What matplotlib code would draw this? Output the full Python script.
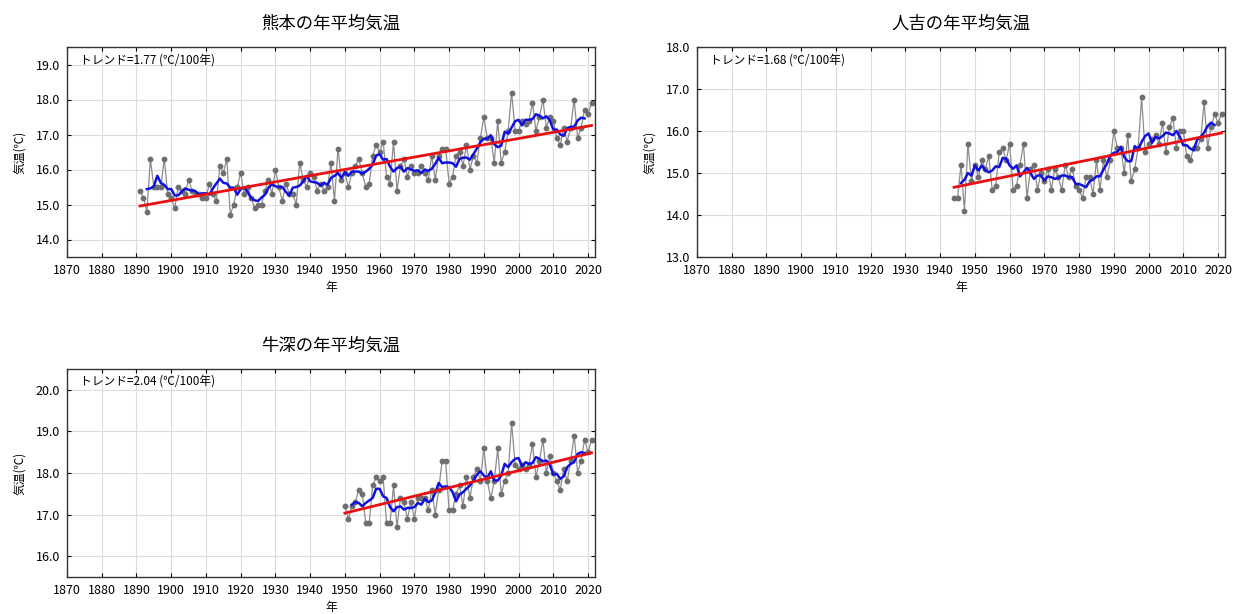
import matplotlib
matplotlib.use('Agg')
import matplotlib.pyplot as plt
import numpy as np

plt.rcParams['font.family'] = ['Noto Sans CJK JP', 'DejaVu Sans']

# 熊本 1891-2021
kumamoto_start = 1891
kumamoto = [
    15.4, 15.2, 14.8, 16.3, 15.5, 15.5, 15.5, 16.3, 15.3, 15.2,
    14.9, 15.5, 15.4, 15.3, 15.7, 15.4, 15.3, 15.3, 15.2, 15.2,
    15.6, 15.3, 15.1, 16.1, 15.9, 16.3, 14.7, 15.0, 15.5, 15.9,
    15.3, 15.5, 15.2, 14.9, 15.0, 15.0, 15.4, 15.7, 15.3, 16.0,
    15.5, 15.1, 15.6, 15.3, 15.3, 15.0, 16.2, 15.7, 15.5, 15.9,
    15.8, 15.4, 15.6, 15.4, 15.5, 16.2, 15.1, 16.6, 15.7, 15.9,
    15.5, 15.9, 16.1, 16.3, 15.9, 15.5, 15.6, 16.4, 16.7, 16.5,
    16.8, 15.8, 15.6, 16.8, 15.4, 16.1, 16.3, 15.8, 16.1, 15.9,
    15.9, 16.1, 15.9, 15.7, 16.4, 15.7, 16.4, 16.6, 16.6, 15.6,
    15.8, 16.4, 16.5, 16.1, 16.7, 16.0, 16.4, 16.2, 16.9, 17.5,
    16.9, 16.9, 16.2, 17.4, 16.2, 16.5, 17.1, 18.2, 17.1, 17.1,
    17.4, 17.3, 17.4, 17.9, 17.1, 17.5, 18.0, 17.2, 17.5, 17.4,
    16.9, 16.7, 17.2, 16.8, 17.2, 18.0, 16.9, 17.2, 17.7, 17.6,
    17.9,
]

# 人吉 1944-2021
hitoyoshi_start = 1944
hitoyoshi = [
    14.4, 14.4, 15.2, 14.1, 15.7, 14.8, 15.2, 14.9, 15.3, 15.1,
    15.4, 14.6, 14.7, 15.5, 15.6, 15.3, 15.7, 14.6, 14.7, 15.2,
    15.7, 14.4, 15.1, 15.2, 14.6, 15.0, 14.8, 15.1, 14.6, 15.1,
    14.9, 14.6, 15.2, 14.9, 15.1, 14.7, 14.6, 14.4, 14.9, 14.9,
    14.5, 15.3, 14.6, 15.3, 14.9, 15.3, 16.0, 15.6, 15.6, 15.0,
    15.9, 14.8, 15.1, 15.6, 16.8, 15.5, 15.7, 15.8, 15.9, 15.7,
    16.2, 15.5, 16.1, 16.3, 15.6, 16.0, 16.0, 15.4, 15.3, 15.6,
    15.6, 15.8, 16.7, 15.6, 16.1, 16.4, 16.2, 16.4,
]

# 牛深 1950-2021
ushibuka_start = 1950
ushibuka = [
    17.2, 16.9, 17.2, 17.3, 17.6, 17.5, 16.8, 16.8, 17.7, 17.9,
    17.8, 17.9, 16.8, 16.8, 17.7, 16.7, 17.4, 17.3, 16.9, 17.3,
    16.9, 17.4, 17.4, 17.4, 17.1, 17.6, 17.0, 17.6, 18.3, 18.3,
    17.1, 17.1, 17.5, 17.7, 17.2, 17.9, 17.4, 17.9, 18.1, 17.8,
    18.6, 17.8, 17.4, 17.8, 18.6, 17.5, 17.8, 18.0, 19.2, 18.2,
    18.1, 18.2, 18.1, 18.2, 18.7, 17.9, 18.3, 18.8, 18.0, 18.4,
    18.0, 17.8, 17.6, 18.1, 17.8, 18.3, 18.9, 18.0, 18.3, 18.8,
    18.5, 18.8,
]

titles = ['熊本の年平均気温', '人吉の年平均気温', '牛深の年平均気温']
trends = [1.77, 1.68, 2.04]
yranges = [(13.5, 19.5), (13.0, 18.0), (15.5, 20.5)]
xticks = list(range(1870, 2030, 10))

W, H = 1236, 614
fig = plt.figure(figsize=(W / 100, H / 100), dpi=100)


def box(left, top, right, bottom):
    return [left / W, 1 - bottom / H, (right - left) / W, (bottom - top) / H]


axes_pos = [box(67, 47, 595, 257), box(697, 47, 1225, 257), box(67, 369, 595, 577)]
series = [(kumamoto_start, kumamoto), (hitoyoshi_start, hitoyoshi), (ushibuka_start, ushibuka)]

for i in range(3):
    ax = fig.add_axes(axes_pos[i])
    start, vals = series[i]
    vals = np.array(vals)
    years = np.arange(start, start + len(vals))

    ax.plot(years, vals, color='#8c8c8c', lw=0.9, marker='o', ms=3.2,
            mfc='#6e6e6e', mec='#6e6e6e', zorder=2)

    # 5年移動平均
    run = np.convolve(vals, np.ones(5) / 5, mode='valid')
    ax.plot(years[2:-2], run, color='#1010e0', lw=1.8, zorder=3)

    # 長期変化傾向
    slope = trends[i] / 100
    trend = vals.mean() + slope * (years - years.mean())
    ax.plot(years, trend, color='#e81010', lw=2.0, zorder=4)

    lo, hi = yranges[i]
    ax.set_xlim(1870, 2022)
    ax.set_ylim(lo, hi)
    ax.set_xticks(xticks)
    ax.set_yticks(np.arange(np.ceil(lo), hi + 0.01, 1.0))
    ax.yaxis.set_major_formatter(matplotlib.ticker.FormatStrFormatter('%.1f'))
    ax.grid(True, color='#dcdcdc', lw=0.8)
    ax.set_axisbelow(True)
    ax.tick_params(direction='in', top=True, right=True, labelsize=9, length=3, pad=5)
    for s in ax.spines.values():
        s.set_linewidth(1.0)
        s.set_color('#333333')

    ax.set_title(titles[i], fontsize=12.5, pad=13)
    ax.set_xlabel('年', fontsize=8.5, labelpad=3)
    ax.set_ylabel('気温(℃)', fontsize=8.5, labelpad=7)
    ax.text(0.025, 0.94, 'トレンド=%.2f (℃/100年)' % trends[i], transform=ax.transAxes,
            fontsize=8.5, va='center', ha='left')

fig.savefig('out.png', dpi=100)
